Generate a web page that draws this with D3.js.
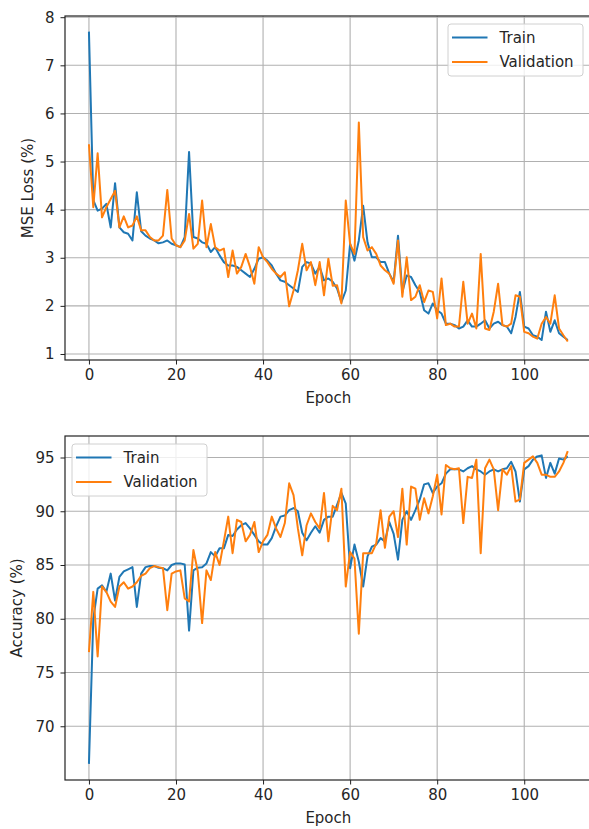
<!DOCTYPE html>
<html>
<head>
<meta charset="utf-8">
<script src="https://cdn.jsdelivr.net/npm/d3@7"></script>
<style>
  html, body { margin: 0; padding: 0; background: #fff; }
  svg { display: block; font-family: "DejaVu Sans", sans-serif; }
</style>
</head>
<body>
<svg id="chart" width="589" height="829"></svg>
<script>
// ---------------- data ----------------
const epochs = d3.range(0, 111);

const trainLoss = [7.7, 4.2, 3.98, 4.02, 4.12, 3.63, 4.55, 3.63, 3.53, 3.5,
  3.36, 4.36, 3.55, 3.46, 3.4, 3.36, 3.3, 3.32, 3.36, 3.29,
  3.26, 3.22, 3.43, 5.2, 3.43, 3.4, 3.32, 3.29, 3.12, 3.22,
  3.05, 2.91, 2.84, 2.84, 2.81, 2.74, 2.67, 2.6, 2.77, 2.98,
  3.01, 2.94, 2.84, 2.67, 2.53, 2.5, 2.43, 2.36, 2.29, 2.81,
  2.91, 2.88, 2.67, 2.81, 2.53, 2.57, 2.5, 2.36, 2.08, 2.32,
  3.29, 2.94, 3.36, 4.08, 3.32, 3.01, 3.01, 2.91, 2.91, 2.67,
  2.5, 3.46, 2.29, 2.63, 2.6, 2.43, 2.29, 1.91, 1.84, 2.05,
  1.91, 1.84, 1.63, 1.63, 1.6, 1.53, 1.57, 1.7, 1.57, 1.57,
  1.63, 1.7, 1.53, 1.63, 1.67, 1.6, 1.57, 1.43, 1.77, 2.29,
  1.57, 1.53, 1.39, 1.36, 1.29, 1.88, 1.46, 1.7, 1.43, 1.36, 1.29];

const valLoss = [5.36, 4.05, 5.17, 3.84, 4.05, 4.22, 4.39, 3.63, 3.86, 3.63,
  3.67, 3.86, 3.57, 3.57, 3.43, 3.36, 3.36, 3.46, 4.41, 3.4,
  3.26, 3.22, 3.36, 3.91, 3.19, 3.29, 4.19, 3.22, 3.7, 3.22,
  3.15, 3.19, 2.6, 3.15, 2.67, 2.81, 3.08, 2.81, 2.46, 3.22,
  3.01, 2.91, 2.77, 2.67, 2.6, 2.7, 1.99, 2.32, 2.74, 3.29,
  2.74, 2.91, 2.43, 2.91, 2.22, 2.98, 2.42, 2.43, 2.05, 4.19,
  3.29, 3.08, 5.81, 3.43, 3.15, 3.22, 3.08, 2.84, 2.74, 2.67,
  2.46, 3.36, 2.19, 3.01, 2.12, 2.19, 2.43, 2.08, 2.32, 2.29,
  1.74, 2.57, 1.6, 1.63, 1.57, 1.57, 2.5, 1.63, 1.84, 1.53,
  3.08, 1.53, 1.5, 1.88, 2.46, 1.6, 1.57, 1.63, 2.22, 2.19,
  1.46, 1.43, 1.36, 1.32, 1.63, 1.77, 1.63, 2.22, 1.53, 1.39, 1.26];

const trainAcc = [66.5, 80.0, 82.8, 83.1, 82.5, 84.2, 81.7, 83.9, 84.4, 84.6,
  84.8, 81.1, 84.2, 84.8, 84.9, 84.9, 84.75, 84.7, 84.5, 85.0,
  85.15, 85.15, 85.05, 78.9, 84.5, 84.75, 84.8, 85.15, 86.2, 85.8,
  86.55, 86.55, 87.8, 87.7, 88.3, 88.7, 88.9, 88.4, 87.8, 87.2,
  86.9, 86.9, 87.5, 88.6, 89.5, 89.6, 90.1, 90.3, 90.0, 88.0,
  87.3, 88.0, 88.6, 88.0, 89.2, 89.5, 89.5, 90.6, 91.7, 90.7,
  84.7, 86.9, 85.3, 83.0, 85.8, 86.7, 86.9, 87.5, 87.2, 89.0,
  87.9, 85.5, 89.2, 90.0, 89.2, 90.1, 91.1, 92.5, 92.6, 91.7,
  92.3, 92.6, 93.5, 93.9, 93.9, 93.9, 93.7, 94.0, 94.2, 93.9,
  93.7, 93.4, 93.7, 93.9, 93.7, 93.9, 94.0, 94.6, 93.7, 90.9,
  93.9, 94.2, 94.8, 95.1, 95.2, 93.1, 94.5, 93.5, 94.9, 94.8, 95.1];

const valAcc = [76.9, 82.5, 76.5, 83.0, 82.5, 81.6, 81.1, 83.0, 83.4, 82.8,
  83.0, 83.4, 84.0, 84.2, 84.7, 84.9, 84.8, 84.7, 80.8, 84.2,
  84.4, 84.5, 81.9, 81.6, 86.4, 84.4, 79.6, 84.5, 83.6, 86.2,
  85.0, 87.2, 89.5, 86.1, 89.2, 89.0, 87.2, 87.8, 89.0, 86.2,
  87.2, 87.8, 89.5, 88.4, 87.6, 88.9, 92.6, 91.5, 88.4, 85.9,
  88.7, 89.8, 89.0, 88.4, 91.7, 87.2, 90.5, 90.1, 92.1, 83.0,
  86.2, 85.6, 78.6, 86.1, 86.1, 86.1, 87.0, 90.1, 86.6, 89.5,
  90.0, 87.6, 92.1, 86.9, 92.3, 92.1, 89.2, 91.2, 89.8, 91.4,
  93.4, 89.7, 94.3, 94.0, 93.9, 94.0, 88.9, 93.2, 93.1, 94.8,
  86.1, 94.0, 94.8, 93.9, 90.1, 93.9, 93.4, 94.2, 90.9, 91.1,
  94.5, 94.8, 95.1, 94.5, 93.4, 93.4, 93.2, 93.2, 93.7, 94.5, 95.6];

const xTicks = [0, 20, 40, 60, 80, 100];
const lossTicks = [1, 2, 3, 4, 5, 6, 7, 8];
const accTicks = [70, 75, 80, 85, 90, 95];
const seriesNames = ["Train", "Validation"];
const colors = ["#1f77b4", "#ff7f0e"];

// ---------------- drawing ----------------
const svg = d3.select("#chart");
const FONT = 15;
const TEXT = "#262626";

function panel(cfg) {
  const { top, bottom, yDomain, yTicks, yLabel, yLabelX, series, legend } = cfg;
  const left = 65, right = 591.7;
  const x = d3.scaleLinear().domain([-5.5, 115.5]).range([left, right]);
  const y = d3.scaleLinear().domain(yDomain).range([bottom, top]);
  const g = svg.append("g");

  // grid
  g.append("g").selectAll("line").data(xTicks).join("line")
    .attr("x1", d => x(d)).attr("x2", d => x(d))
    .attr("y1", top).attr("y2", bottom)
    .attr("stroke", "#b0b0b0").attr("stroke-width", 1.1);
  g.append("g").selectAll("line").data(yTicks).join("line")
    .attr("x1", left).attr("x2", right)
    .attr("y1", d => y(d)).attr("y2", d => y(d))
    .attr("stroke", "#b0b0b0").attr("stroke-width", 1.1);

  // lines
  const line = d3.line().x((d, i) => x(epochs[i])).y(d => y(d));
  series.forEach((s, k) => {
    g.append("path").datum(s)
      .attr("fill", "none").attr("stroke", colors[k])
      .attr("stroke-width", 2).attr("stroke-linejoin", "round")
      .attr("d", line);
  });

  // axes
  const ax = g.append("g").attr("transform", `translate(0,${bottom})`)
    .call(d3.axisBottom(x).tickValues(xTicks).tickSize(4.5).tickPadding(5).tickFormat(d3.format("d")));
  const ay = g.append("g").attr("transform", `translate(${left},0)`)
    .call(d3.axisLeft(y).tickValues(yTicks).tickSize(4.5).tickPadding(6).tickFormat(d3.format("d")));
  [ax, ay].forEach(a => {
    a.select(".domain").remove();
    a.selectAll("line").attr("stroke", "#222").attr("stroke-width", 1);
    a.selectAll("text").attr("font-size", FONT).attr("fill", TEXT)
      .attr("font-family", "DejaVu Sans, sans-serif");
  });

  // spines
  g.append("rect").attr("x", left).attr("y", top)
    .attr("width", right - left).attr("height", bottom - top)
    .attr("fill", "none").attr("stroke", "#222").attr("stroke-width", 1.2);

  // labels
  g.append("text").attr("x", (left + right) / 2).attr("y", bottom + 43)
    .attr("text-anchor", "middle").attr("font-size", FONT).attr("fill", TEXT)
    .text("Epoch");
  g.append("text")
    .attr("transform", `translate(${yLabelX},${(top + bottom) / 2}) rotate(-90)`)
    .attr("text-anchor", "middle").attr("font-size", FONT).attr("fill", TEXT)
    .text(yLabel);

  // legend
  const lg = g.append("g");
  lg.append("rect").attr("x", legend.x).attr("y", legend.y)
    .attr("width", 135).attr("height", 52).attr("rx", 3)
    .attr("fill", "white").attr("fill-opacity", 0.8)
    .attr("stroke", "#d0d0d0").attr("stroke-width", 1);
  seriesNames.forEach((name, k) => {
    const ly = legend.y + 13.5 + k * 24.4;
    lg.append("line").attr("x1", legend.x + 4).attr("x2", legend.x + 39.5)
      .attr("y1", ly).attr("y2", ly)
      .attr("stroke", colors[k]).attr("stroke-width", 2);
    lg.append("text").attr("x", legend.x + 51.5).attr("y", ly + 5.3)
      .attr("font-size", FONT).attr("fill", TEXT).text(name);
  });
}

panel({
  top: 16, bottom: 360, yDomain: [0.875, 8.025], yTicks: lossTicks,
  yLabel: "MSE Loss (%)", yLabelX: 33,
  series: [trainLoss, valLoss],
  legend: { x: 448, y: 24 }
});

panel({
  top: 436, bottom: 780, yDomain: [65.0, 97.0], yTicks: accTicks,
  yLabel: "Accuracy (%)", yLabelX: 22,
  series: [trainAcc, valAcc],
  legend: { x: 72, y: 444 }
});
</script>
</body>
</html>
